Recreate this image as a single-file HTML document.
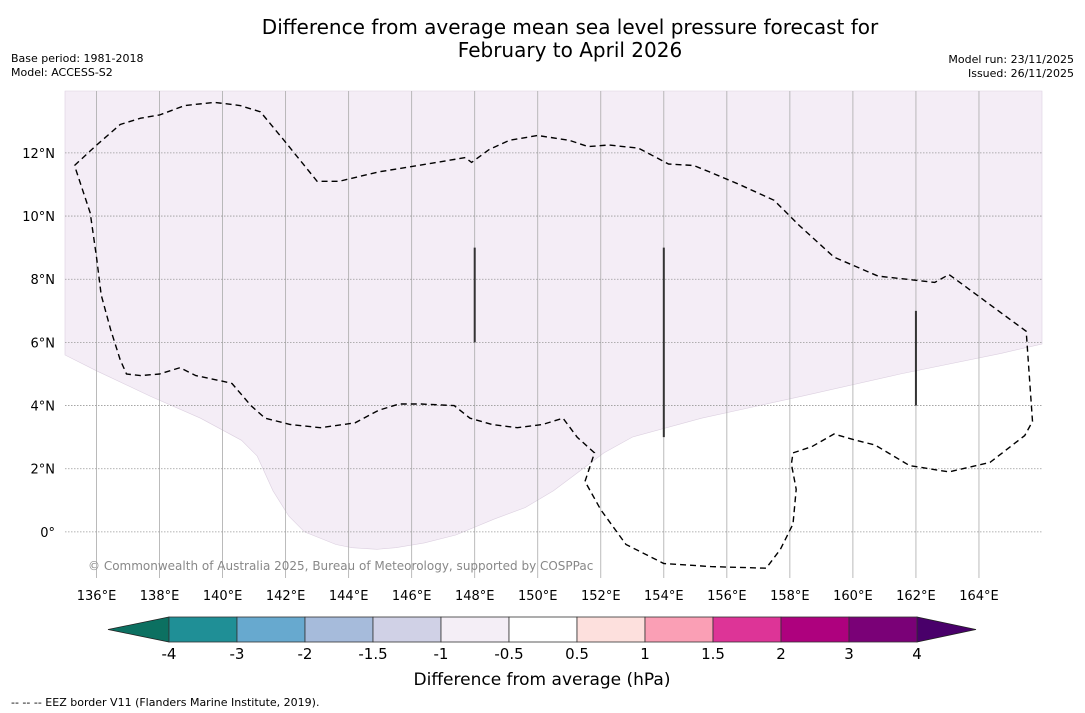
<!DOCTYPE html>
<html><head><meta charset="utf-8"><style>
body{margin:0;background:#fff;}
svg{display:block;font-family:"DejaVu Sans","Liberation Sans",sans-serif;}
</style></head><body>
<svg id="chart" width="1085" height="713" viewBox="0 0 1085 713" xmlns="http://www.w3.org/2000/svg">
<rect width="1085" height="713" fill="#fff"/>
<text x="570" y="34" font-size="20" text-anchor="middle">Difference from average mean sea level pressure forecast for</text>
<text x="570" y="57" font-size="20" text-anchor="middle">February to April 2026</text>
<text x="11" y="62" font-size="11">Base period: 1981-2018</text>
<text x="11" y="76" font-size="11">Model: ACCESS-S2</text>
<text x="1074" y="63" font-size="11" text-anchor="end">Model run: 23/11/2025</text>
<text x="1074" y="77" font-size="11" text-anchor="end">Issued: 26/11/2025</text>
<g id="map"></g>
<g id="cbar"></g>
<text x="542" y="685" font-size="17" text-anchor="middle">Difference from average (hPa)</text>
<text x="11" y="706" font-size="11">--  --  -- EEZ border V11 (Flanders Marine Institute, 2019).</text>
</svg>
<script>
const lonTicks=[136,138,140,142,144,146,148,150,152,154,156,158,160,162,164];
const latTicks=[0,2,4,6,8,10,12];
const cbarLevels=[-4,-3,-2,-1.5,-1,-0.5,0.5,1,1.5,2,3,4];
const cbarLabels=["-4","-3","-2","-1.5","-1","-0.5","0.5","1","1.5","2","3","4"];
const cbarColors=["#1f8f96","#67a9cf","#a6bbdb","#d0d1e6","#f4eef6","#ffffff","#fde0dd","#fa9fb5","#dd3497","#ae017e","#7a0177"];
// shaded region (-0.5..-1 hPa) lower boundary as [lon,lat]
const shadeBoundary=[[135,5.6],[136,5.1],[137.7,4.3],[139.3,3.6],[140.6,2.9],[141.1,2.4],[141.6,1.3],[142.1,0.5],[142.6,0],[143.6,-0.4],[144.1,-0.5],[144.9,-0.55],[145.5,-0.5],[146.4,-0.35],[147.4,-0.1],[148.6,0.4],[149.6,0.77],[150.5,1.3],[151.3,1.9],[152.1,2.5],[153,3],[155.2,3.6],[158.4,4.3],[161.5,5],[164.7,5.65],[166,5.95]];
const eez=[[135.3,11.6],[135.95,12.2],[136.75,12.9],[137.4,13.1],[138,13.2],[138.8,13.5],[139.75,13.6],[140.55,13.5],[141.2,13.3],[141.95,12.4],[143,11.1],[143.7,11.1],[144.95,11.4],[146.2,11.6],[147.7,11.85],[147.9,11.7],[148.45,12.1],[149.1,12.4],[150,12.55],[151,12.4],[151.6,12.2],[152.25,12.25],[153.2,12.15],[154.15,11.65],[154.95,11.6],[155.45,11.4],[156.4,11],[157.5,10.5],[158.3,9.7],[159.4,8.7],[160.8,8.1],[162.6,7.9],[163.05,8.15],[163.8,7.6],[165.5,6.35],[165.7,3.5],[165.45,3.05],[164.35,2.2],[163.05,1.9],[161.8,2.1],[160.7,2.75],[160.1,2.9],[159.4,3.1],[158.7,2.7],[158.1,2.5],[158.05,2.15],[158.2,1.35],[158.1,0.25],[157.7,-0.55],[157.25,-1.15],[155.5,-1.1],[154,-1],[152.8,-0.4],[152,0.7],[151.5,1.6],[151.8,2.5],[151.25,3],[150.8,3.6],[150.15,3.4],[149.35,3.3],[148.55,3.4],[147.85,3.6],[147.35,4],[146.3,4.05],[145.6,4.05],[144.95,3.85],[144.2,3.45],[143.1,3.3],[142.15,3.4],[141.35,3.6],[140.9,4],[140.3,4.7],[140.1,4.75],[139.15,4.95],[138.65,5.2],[138,5],[137.4,4.95],[136.95,5],[136.75,5.45],[136.45,6.4],[136.15,7.5],[136,8.7],[135.8,10.1],[135.3,11.6]];
const meridianBars=[[148,6,9],[154,3,9],[162,4,7]];

const NS='http://www.w3.org/2000/svg';
const X0=65,X1=1042,Y0=91,Y1=578,LON0=135,LON1=166,LAT0=-1.46,LAT1=13.96;
const xs=lon=>X0+(lon-LON0)/(LON1-LON0)*(X1-X0);
const ys=lat=>Y1-(lat-LAT0)/(LAT1-LAT0)*(Y1-Y0);
function mk(tag,attrs,parent){const e=document.createElementNS(NS,tag);for(const k in attrs)e.setAttribute(k,attrs[k]);parent.appendChild(e);return e;}
const map=document.getElementById('map');
// shaded polygon: top edge then boundary
let d=`M${X0},${Y0} L${X1},${Y0} `;
for(let i=shadeBoundary.length-1;i>=0;i--){d+=`L${xs(shadeBoundary[i][0]).toFixed(1)},${ys(shadeBoundary[i][1]).toFixed(1)} `;}
d+='Z';
const shade=mk('path',{d:d,fill:'#f4edf6',stroke:'#dcd0e0','stroke-width':0.6},map);


lonTicks.forEach(l=>{
  const g=mk('line',{x1:xs(l),x2:xs(l),y1:Y0,y2:Y1,stroke:'#aaa','stroke-width':0.8},map);
  
  
  const t=mk('text',{x:xs(l),y:Y1+22,'font-size':13,'text-anchor':'middle'},map);
  t.textContent=l+'°E';
  
  
});
latTicks.forEach(l=>{
  const g=mk('line',{x1:X0,x2:X1,y1:ys(l),y2:ys(l),stroke:'#999','stroke-width':0.8,'stroke-dasharray':'1.5,1.5'},map);
  
  
  const t=mk('text',{x:X0-10,y:ys(l)+5,'font-size':13,'text-anchor':'end'},map);
  t.textContent=l===0?'0°':l+'°N';
  
  
});
const eezPath=mk('path',{d:'M'+eez.map(p=>xs(p[0]).toFixed(1)+','+ys(p[1]).toFixed(1)).join(' L'),fill:'none',stroke:'#000','stroke-width':1.4,'stroke-dasharray':'6,4'},map);


meridianBars.forEach(b=>{
  const l=mk('line',{x1:xs(b[0]),x2:xs(b[0]),y1:ys(b[2]),y2:ys(b[1]),stroke:'#333','stroke-width':2},map);
  
  
});
const cp=mk('text',{x:88,y:570,'font-size':12,fill:'#888'},map);
cp.textContent='© Commonwealth of Australia 2025, Bureau of Meteorology, supported by COSPPac';



const cb=document.getElementById('cbar');
const CX0=169,CX1=917,CY0=617,CY1=642;
const cx=i=>CX0+i*(CX1-CX0)/(cbarLevels.length-1);
const la=mk('path',{d:`M108,${(CY0+CY1)/2} L${CX0},${CY0} L${CX0},${CY1} Z`,fill:'#0c7061',stroke:'#222','stroke-width':0.8},cb);


const ra=mk('path',{d:`M976,${(CY0+CY1)/2} L${CX1},${CY0} L${CX1},${CY1} Z`,fill:'#49006a',stroke:'#222','stroke-width':0.8},cb);


cbarColors.forEach((c,i)=>{
  const r=mk('rect',{x:cx(i),y:CY0,width:cx(i+1)-cx(i),height:CY1-CY0,fill:c,stroke:'#333','stroke-width':0.8},cb);
  
  
});
cbarLabels.forEach((s,i)=>{
  const t=mk('text',{x:cx(i),y:659,'font-size':15,'text-anchor':'middle'},cb);
  t.textContent=s;
  
  
});
</script>
</body></html>
